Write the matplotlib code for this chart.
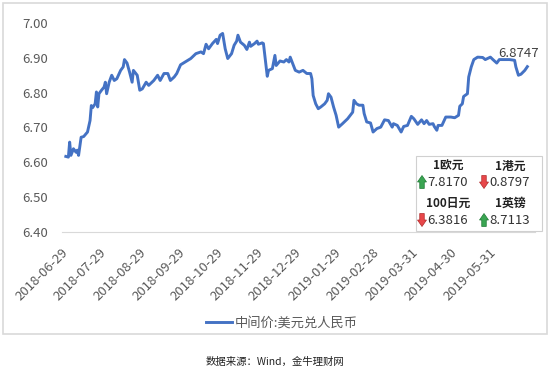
import matplotlib
matplotlib.use('Agg')
import matplotlib.pyplot as plt
import matplotlib.dates as mdates
from matplotlib.patches import Rectangle, FancyArrow
import pandas as pd

plt.rcParams['font.family'] = ['Noto Sans CJK SC', 'DejaVu Sans']

# USD/CNY central parity (days after 2018-06-29)
start = pd.Timestamp('2018-06-29')
day_offsets = [0, 2, 3, 4, 6, 8, 9, 10, 12, 14, 17, 19, 20, 21, 23, 24, 25, 26, 28, 30,
               31, 32, 34, 36, 38, 40, 43, 45, 46, 48, 50, 52, 53, 56, 58, 60, 63, 65, 69, 72,
               74, 77, 80, 82, 85, 87, 90, 98, 102, 106, 108, 110, 112, 115, 118, 119, 121, 123, 125, 127,
               130, 132, 134, 135, 137, 140, 142, 144, 145, 148, 150, 151, 154, 155, 158, 159, 162, 164, 165, 168,
               171, 173, 175, 176, 178, 180, 183, 186, 189, 192, 193, 194, 196, 198, 200, 203, 205, 206, 208, 210,
               212, 214, 217, 221, 225, 226, 228, 230, 233, 234, 236, 239, 241, 244, 247, 250, 253, 256, 257, 260,
               263, 265, 268, 271, 273, 276, 279, 281, 283, 285, 288, 289, 291, 292, 295, 298, 302, 305, 308, 309,
               311, 312, 315, 316, 318, 320, 323, 327, 329, 333, 335, 338, 340, 344, 348, 352, 353, 355, 357, 360,
               362]
mid_rate = [6.617, 6.615, 6.658, 6.620, 6.639, 6.629, 6.635, 6.620, 6.672, 6.674, 6.687, 6.720, 6.763, 6.757, 6.768, 6.802, 6.759, 6.797, 6.807, 6.816,
            6.830, 6.797, 6.830, 6.850, 6.835, 6.840, 6.864, 6.874, 6.895, 6.885, 6.859, 6.830, 6.864, 6.850, 6.807, 6.811, 6.830, 6.821, 6.835, 6.850,
            6.835, 6.855, 6.855, 6.835, 6.845, 6.855, 6.880, 6.898, 6.912, 6.917, 6.912, 6.939, 6.926, 6.941, 6.953, 6.941, 6.965, 6.970, 6.926, 6.898,
            6.912, 6.936, 6.948, 6.965, 6.945, 6.936, 6.924, 6.945, 6.933, 6.941, 6.948, 6.939, 6.943, 6.941, 6.847, 6.864, 6.869, 6.907, 6.878, 6.891,
            6.888, 6.895, 6.888, 6.902, 6.883, 6.864, 6.859, 6.864, 6.855, 6.855, 6.840, 6.792, 6.768, 6.754, 6.759, 6.768, 6.778, 6.797, 6.787, 6.759,
            6.735, 6.701, 6.711, 6.725, 6.744, 6.778, 6.768, 6.764, 6.764, 6.740, 6.716, 6.713, 6.687, 6.697, 6.701, 6.722, 6.720, 6.701, 6.711, 6.706,
            6.687, 6.703, 6.706, 6.732, 6.725, 6.709, 6.722, 6.711, 6.720, 6.709, 6.711, 6.703, 6.692, 6.706, 6.706, 6.730, 6.730, 6.728, 6.735, 6.761,
            6.768, 6.789, 6.797, 6.845, 6.874, 6.895, 6.902, 6.901, 6.895, 6.902, 6.895, 6.885, 6.895, 6.895, 6.895, 6.893, 6.874, 6.850, 6.853, 6.864,
            6.8747]
tick_dates = ['2018-06-29', '2018-07-29', '2018-08-29', '2018-09-29', '2018-10-29', '2018-11-29',
              '2018-12-29', '2019-01-29', '2019-02-28', '2019-03-31', '2019-04-30', '2019-05-31']
y_ticks = [6.40, 6.50, 6.60, 6.70, 6.80, 6.90, 7.00]

# side box: other currencies vs CNY
box_names = ['1欧元', '1港元', '100日元', '1英镑']
box_values = [7.8170, 0.8797, 6.3816, 8.7113]
box_up = [True, False, False, True]

dates = start + pd.to_timedelta(day_offsets, unit='D')

W, H = 550, 368
fig = plt.figure(figsize=(W / 100, H / 100), dpi=100)
ax = fig.add_axes([62 / W, 1 - 232 / H, (535 - 62) / W, (232 - 23) / H])

BLUE = '#4472C4'
TXT = '#595959'

line, = ax.plot(dates, mid_rate, color=BLUE, lw=2.1, label='中间价:美元兑人民币',
                solid_joinstyle='round')
ax.annotate(f'{mid_rate[-1]:.4f}', xy=(dates[-1], mid_rate[-1]), xytext=(-6, 5),
            textcoords='offset points', ha='center', va='bottom', fontsize=9.5, color='#404040')

ax.set_ylim(6.40, 7.00)
ax.set_yticks(y_ticks)
ax.set_yticklabels([f'{v:.2f}' for v in y_ticks])
ax.set_xlim(start - pd.Timedelta(days=3), start + pd.Timedelta(days=368))
ax.set_xticks(pd.to_datetime(tick_dates))
ax.xaxis.set_major_formatter(mdates.DateFormatter('%Y-%m-%d'))
ax.tick_params(axis='y', length=0, pad=10, labelsize=9.5, labelcolor=TXT)
ax.tick_params(axis='x', length=0, pad=13, labelsize=9.5, labelcolor=TXT)
for lab in ax.get_xticklabels():
    lab.set_rotation(45)
    lab.set_ha('right')
    lab.set_va('center')
    lab.set_rotation_mode('anchor')
for s in ['top', 'right', 'left']:
    ax.spines[s].set_visible(False)
ax.spines['bottom'].set_color('#d9d9d9')
ax.spines['bottom'].set_linewidth(0.8)

fig.legend(handles=[line], loc='center', bbox_to_anchor=(282 / W, 1 - 323 / H),
           frameon=False, fontsize=9.5, handlelength=2.0, handletextpad=0.2,
           labelcolor=TXT)

# overlay in pixel coordinates for frame, info box and source note
ov = fig.add_axes([0, 0, 1, 1], zorder=5)
ov.set_xlim(0, W)
ov.set_ylim(H, 0)
ov.axis('off')
ov.patch.set_alpha(0)

ov.add_patch(Rectangle((3, 3), 544, 331, fill=False, edgecolor='#d9d9d9', lw=1.2))
ov.add_patch(Rectangle((416, 156), 126, 75, facecolor='white', edgecolor='#d0d0d0', lw=0.8))

cols = [448, 510]
for i, (name, val, up) in enumerate(zip(box_names, box_values, box_up)):
    cx = cols[i % 2]
    row = i // 2
    y_head = 166 + row * 37
    y_val = 182 + row * 38
    ov.text(cx, y_head, name, ha='center', va='center', fontsize=8.5,
            fontweight='bold', color='#222222')
    ax_x = cx - 26
    if up:
        ov.add_patch(FancyArrow(ax_x, y_val + 6.5, 0, -13, width=4.5, head_width=9,
                                head_length=6.5, length_includes_head=True,
                                facecolor='#3aa552', edgecolor='#1f7a35', lw=0.5))
    else:
        ov.add_patch(FancyArrow(ax_x, y_val - 6.5, 0, 13, width=4.5, head_width=9,
                                head_length=6.5, length_includes_head=True,
                                facecolor='#e8474a', edgecolor='#b02a2a', lw=0.5))
    ov.text(ax_x + 5.5, y_val, f'{val:.4f}', ha='left', va='center', fontsize=9.5,
            color='#333333')

ov.text(275, 362, '数据来源：Wind，金牛理财网', ha='center', va='center', fontsize=7.5,
        color='#222222')

fig.savefig('out.png', dpi=100)
